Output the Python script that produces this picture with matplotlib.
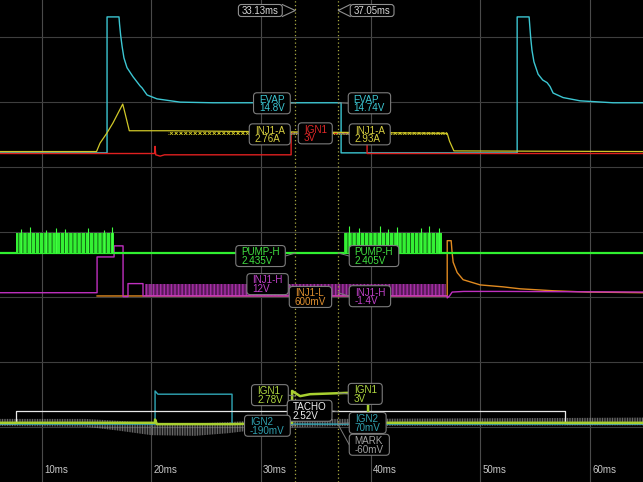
import matplotlib
matplotlib.use("Agg")
import matplotlib.pyplot as plt
from matplotlib.patches import FancyBboxPatch
from matplotlib.transforms import IdentityTransform

plt.rcParams['font.family'] = ['Liberation Sans', 'DejaVu Sans']
plt.rcParams['hatch.linewidth'] = 0.6

# time axis in ms, vertical in scope divisions
tick_ms = [10, 20, 30, 40, 50, 60]
tick_labels = ["10ms", "20ms", "30ms", "40ms", "50ms", "60ms"]
cursors = [33.13, 37.05]
cursor_labels = ["33.13ms", "37.05ms"]

# EVAP (cyan)
evap_t = [6.2, 15.96, 15.96, 17.05, 17.1, 17.2, 17.33, 17.5, 17.78, 18.33, 18.97, 19.15, 19.61,
          20.52, 22.62, 25.63, 37.31, 37.31, 53.37, 53.37, 54.46, 54.51, 54.6, 54.72, 54.9,
          55.28, 55.7, 56.10, 56.37, 56.65, 57.56, 59.11, 62.12, 64.85]
evap_v = [4.22, 4.22, 6.31, 6.31, 6.2, 6.03, 5.86, 5.68, 5.53, 5.39, 5.25, 5.22, 5.11,
          5.05, 5.00, 4.99, 4.99, 4.22, 4.22, 6.31, 6.31, 6.2, 6.0, 5.8, 5.62,
          5.43, 5.34, 5.30, 5.24, 5.14, 5.07, 5.02, 4.99, 4.99]

# INJ1-A (yellow)
inj1a_t = [6.2, 15.0, 15.32, 15.93, 16.5, 17.39, 17.6, 17.99, 21.52, 46.99, 47.2, 47.6, 64.85]
inj1a_v = [4.24, 4.24, 4.37, 4.52, 4.68, 4.97, 4.83, 4.56, 4.56, 4.52, 4.40, 4.25, 4.24]
inj1a_ripple = [21.52, 46.95]

# IGN1 (red, top)
ign1r_t = [6.2, 20.3, 20.34, 20.4, 20.8, 21.2, 32.75, 32.75, 39.68, 39.68, 64.85]
ign1r_v = [4.21, 4.21, 4.32, 4.19, 4.17, 4.19, 4.19, 4.52, 4.52, 4.21, 4.21]

# PUMP-H (green)
pump_base = 2.68
pump_top = 2.99
pump_bursts = [(7.66, 16.60), (37.58, 46.53)]
pump_spikes = [8.1, 8.9, 10.4, 11.3, 12.1, 14.2, 15.7, 16.4,
               38.0, 38.9, 40.9, 41.6, 42.4, 44.6, 45.3, 46.2]
pump_spike_v = [3.05, 3.08, 3.04, 3.07, 3.05, 3.06, 3.04, 3.08,
                3.10, 3.07, 3.09, 3.05, 3.08, 3.06, 3.09, 3.07]

# INJ1-H (magenta)
inj1h_t = [6.2, 15.05, 15.05, 16.60, 16.60, 17.42, 17.42, 17.87, 17.87, 19.24, 19.24, 19.4,
           46.99, 46.99, 47.2, 47.44, 48.5, 52.0, 64.85]
inj1h_v = [2.07, 2.07, 2.62, 2.62, 2.79, 2.79, 2.01, 2.01, 2.21, 2.21, 2.02, 2.02,
           2.02, 1.99, 2.02, 2.08, 2.09, 2.09, 2.08]
inj1h_pwm = [19.45, 46.9]
inj1h_low, inj1h_high = 2.02, 2.21

# INJ1-L (orange)
inj1l_t = [15.05, 46.99, 46.99, 47.35, 47.42, 47.53, 47.90, 48.44, 50.0, 52.09, 53.64,
           56.65, 59.75, 64.85]
inj1l_v = [2.02, 2.02, 2.87, 2.87, 2.72, 2.54, 2.38, 2.27, 2.19, 2.16, 2.13,
           2.10, 2.08, 2.07]

# TACHO (white)
tacho_t = [6.2, 7.66, 7.66, 57.75, 57.75, 64.85]
tacho_v = [0.07, 0.07, 0.25, 0.25, 0.07, 0.07]

# IGN1 (lime, bottom)
ign1_t = [6.2, 20.34, 20.34, 20.5, 27.36, 32.84, 32.84, 33.57, 34.48, 37.86, 39.77, 39.77, 64.85]
ign1_v = [0.07, 0.07, 0.12, 0.05, 0.05, 0.07, 0.56, 0.48, 0.51, 0.53, 0.53, 0.07, 0.07]

# IGN2 (teal)
ign2_t = [6.2, 20.34, 20.34, 20.6, 27.36, 27.36, 64.85]
ign2_v = [0.05, 0.05, 0.56, 0.51, 0.51, 0.05, 0.05]

# MARK (grey, noisy envelope)
mark_t = [6.2, 14.0, 17.0, 20.0, 24.0, 27.0, 30.0, 33.0, 37.0, 64.85]
mark_hi = [0.13, 0.13, 0.10, 0.07, 0.06, 0.08, 0.11, 0.12, 0.13, 0.15]
mark_lo = [0.02, 0.01, -0.05, -0.12, -0.13, -0.09, -0.03, 0.0, 0.02, 0.03]

# cursor readouts: channel name, value text, cursor index, trace level
readout_names = ["EVAP", "EVAP", "INJ1-A", "IGN1", "INJ1-A", "PUMP-H", "PUMP-H",
                 "INJ1-H", "INJ1-L", "INJ1-H", "IGN1", "IGN1", "TACHO", "IGN2", "IGN2", "MARK"]
readout_values = ["14.8V", "14.74V", "2.76A", "3V", "2.93A", "2.435V", "2.405V",
                  "12V", "600mV", "-1.4V", "2.78V", "3V", "2.52V", "-190mV", "70mV", "-60mV"]
readout_cursor = [0, 1, 0, 0, 1, 0, 1, 0, 0, 1, 0, 1, 1, 0, 1, 1]
readout_level = [4.99, 4.99, 4.52, 4.52, 4.52, 2.68, 2.68,
                 2.11, 2.02, 2.07, 0.48, 0.53, 0.24, 0.04, 0.06, 0.04]

colors = {"EVAP": "#3cc6d2", "INJ1-A": "#d8d040", "IGN1": "#e02828", "PUMP-H": "#40e040",
          "INJ1-H": "#c040c8", "INJ1-L": "#e09030", "TACHO": "#f0f0f0", "IGN2": "#30a0b0",
          "MARK": "#a0a0a0"}
ign1_low_color = "#b0d840"
# box placement: side, gap to cursor (px), vertical shift (px)
layout = [("L", 5, -0.5), ("R", 10, -0.5), ("L", 5, -1), ("R", 3, 0), ("R", 11, -1),
          ("L", 10, -3), ("R", 11, -3), ("L", 7, 6), ("R", -6, -1), ("R", 11, -3.5),
          ("L", 7, 1), ("R", 10, -1), ("R", -51, 1), ("L", 5, -1), ("R", 11, 0.5),
          ("R", 11, -20)]

fig = plt.figure(figsize=(6.43, 4.82), dpi=100, facecolor="black")
ax = fig.add_axes([0, 0, 1, 1])
ax.set_facecolor("black")
ax.set_xlim(6.195, 64.85)
ax.set_ylim(-0.84, 6.57)
ax.set_axis_off()

# grid
for t in tick_ms:
    ax.axvline(t, color="#4a4a4a", lw=0.8, zorder=0)
for k in range(7):
    ax.axhline(k, color="#3e3e3e", lw=0.8, zorder=0)
for t, lab in zip(tick_ms, tick_labels):
    ax.text(t + 0.2, -0.66, lab, color="#c8c8c8", fontsize=7, ha="left", va="center")

# top section
ax.plot(evap_t, evap_v, color="#3cc6d2", lw=1.0, zorder=3)
ax.plot(ign1r_t, ign1r_v, color="#e02020", lw=1.0, zorder=3)
ax.plot(inj1a_t, inj1a_v, color="#d0c828", lw=0.9, zorder=4)
ax.fill_between(inj1a_ripple, 4.50, 4.545, facecolor="none", edgecolor="#d0c828",
                hatch="x" * 7, lw=0, zorder=4)

# middle section
ax.plot(inj1l_t, inj1l_v, color="#e08a20", lw=1.0, zorder=3)
ax.plot(inj1h_t, inj1h_v, color="#c030c0", lw=1.0, zorder=3)
ax.fill_between(inj1h_pwm, inj1h_low, inj1h_high, facecolor="none", edgecolor="#c838c8",
                hatch="|" * 12, lw=0, zorder=3)
ax.axhline(pump_base, color="#30f030", lw=1.6, zorder=4)
for t0, t1 in pump_bursts:
    ax.fill_between([t0, t1], pump_base, pump_top, facecolor="#34f034", edgecolor="#0c4a0c",
                    hatch="|" * 4, lw=0, zorder=4)
ax.vlines(pump_spikes, pump_base, pump_spike_v, color="#40ff40", lw=0.8, zorder=4)

# bottom section
ax.fill_between(mark_t, mark_lo, mark_hi, facecolor="none", edgecolor="#9a9a9a",
                hatch="|" * 10, lw=0, alpha=0.8, zorder=2)
ax.plot(ign2_t, ign2_v, color="#30a8b8", lw=1.0, zorder=3)
ax.plot(ign1_t, ign1_v, color="#a8d030", lw=1.8, zorder=4)
ax.plot(tacho_t, tacho_v, color="#e8e8e8", lw=0.9, zorder=3)

renderer = fig.canvas.get_renderer()
px = IdentityTransform()
FS = 7.1

# cursors with time tags
for c, lab, side in zip(cursors, cursor_labels, ["L", "R"]):
    ax.axvline(c, color="#a8a840", lw=0.9, ls=(0, (1, 2)), zorder=5)
    x0, _ = ax.transData.transform((c, 0))
    cy = 482 - 10.5
    txt = ax.text(0, 0, lab, color="#d8d8d8", fontsize=6.9, transform=px,
                  ha="left", va="center", zorder=12)
    w = txt.get_window_extent(renderer).width + 7
    if side == "L":
        left = x0 - 13 - w
        edge = left + w
    else:
        left = x0 + 12
        edge = left
    txt.set_position((left + 3.5, cy))
    ax.add_patch(FancyBboxPatch((left, cy - 6), w, 12, boxstyle="round,pad=0,rounding_size=3",
                                transform=px, fc="black", ec="#909090", lw=0.8, zorder=11))
    ax.plot([edge, x0, edge], [cy + 6, cy, cy - 6], color="#909090", lw=0.8,
            transform=px, zorder=11)

# channel readouts
H = 21
for name, val, ci, lvl, (side, gap, dy) in zip(readout_names, readout_values, readout_cursor,
                                                readout_level, layout):
    col = colors[name]
    if name == "IGN1" and lvl < 1:
        col = ign1_low_color
    x0, y0 = ax.transData.transform((cursors[ci], lvl))
    t1 = ax.text(0, 0, name, color=col, fontsize=FS, transform=px, va="baseline", zorder=12)
    t2 = ax.text(0, 0, val, color=col, fontsize=FS, transform=px, va="baseline", zorder=12)
    w = max(t1.get_window_extent(renderer).width, t2.get_window_extent(renderer).width) + 11
    if side == "L":
        left = x0 - gap - w
    else:
        left = x0 + gap
    cy = y0 + dy
    top = cy + H / 2
    t1.set_position((left + 5.5, top - 9.8))
    t2.set_position((left + 5.5, top - 18.6))
    ax.add_patch(FancyBboxPatch((left, cy - H / 2), w, H, boxstyle="round,pad=0,rounding_size=3.5",
                                transform=px, fc="black", ec="#7c7c7c", lw=0.8, zorder=11))
    if x0 > left + w:
        ax.plot([left + w, x0], [cy, y0], color="#7c7c7c", lw=0.7, transform=px, zorder=10)
    elif x0 < left:
        ax.plot([left, x0], [cy, y0], color="#7c7c7c", lw=0.7, transform=px, zorder=10)

fig.savefig("out.png", dpi=100, facecolor="black")
